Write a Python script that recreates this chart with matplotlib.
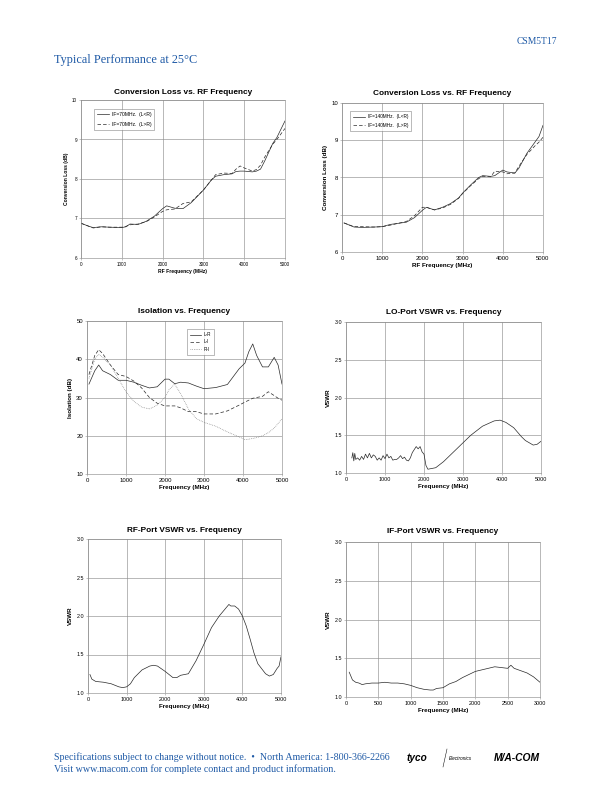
import matplotlib
matplotlib.use("Agg")
import matplotlib.pyplot as plt

plt.rcParams['font.family'] = ['Liberation Sans', 'DejaVu Sans']

# ---- data ----
cl70_freq = [0, 200, 300, 500, 700, 1000, 1100, 1200, 1400, 1600, 1800, 2000, 2100, 2300,
             2500, 2700, 3000, 3200, 3300, 3500, 3700, 3800, 3900, 4000, 4200, 4300,
             4400, 4500, 4700, 4800, 5000]
cl70_lr = [6.88, 6.80, 6.77, 6.79, 6.78, 6.77, 6.79, 6.86, 6.85, 6.93, 7.06, 7.25, 7.32, 7.26,
           7.25, 7.40, 7.72, 7.98, 8.07, 8.11, 8.13, 8.19, 8.20, 8.20, 8.18, 8.20,
           8.25, 8.45, 8.90, 9.05, 9.47]
cl70_rl = [6.88, 6.80, 6.76, 6.79, 6.78, 6.78, 6.80, 6.84, 6.86, 6.92, 7.04, 7.18, 7.22, 7.24,
           7.38, 7.42, 7.72, 7.98, 8.11, 8.15, 8.14, 8.25, 8.33, 8.28, 8.20, 8.24,
           8.35, 8.55, 8.88, 9.00, 9.28]

cl140_freq = [50, 300, 500, 800, 1000, 1200, 1400, 1600, 1800, 2000, 2100, 2300, 2500, 2700,
              2900, 3000, 3200, 3400, 3500, 3700, 3800, 4000, 4100, 4300, 4400, 4600,
              4800, 4900, 5000]
cl140_lr = [6.78, 6.67, 6.66, 6.67, 6.68, 6.74, 6.77, 6.80, 6.92, 7.12, 7.20, 7.13, 7.20, 7.30,
            7.45, 7.58, 7.80, 8.00, 8.05, 8.03, 8.05, 8.20, 8.15, 8.12, 8.25, 8.65,
            8.95, 9.10, 9.40]
cl140_rl = [6.78, 6.68, 6.68, 6.67, 6.68, 6.72, 6.77, 6.82, 6.97, 7.20, 7.20, 7.13, 7.18, 7.28,
            7.44, 7.57, 7.78, 7.97, 8.03, 8.02, 8.17, 8.15, 8.10, 8.12, 8.30, 8.62,
            8.85, 8.95, 9.08]

iso_freq = [50, 200, 300, 400, 600, 800, 1000, 1200, 1400, 1600, 1800, 2000, 2100, 2250,
            2400, 2600, 2800, 3000, 3300, 3600, 3900, 4050, 4150, 4250, 4350, 4500,
            4650, 4800, 4900, 5000]
iso_lr = [33.5, 37.0, 38.5, 37.0, 36.0, 34.5, 34.5, 34.0, 33.2, 32.5, 32.8, 34.8, 34.8, 33.6,
          34.0, 33.8, 33.0, 32.3, 32.6, 33.4, 37.5, 39.0, 42.0, 44.0, 41.0, 38.0,
          38.0, 40.5, 38.5, 33.5]
iso_li = [36.0, 41.0, 42.5, 41.5, 38.5, 36.0, 35.5, 34.3, 32.5, 30.0, 28.5, 27.8, 27.8, 27.8,
          27.3, 26.3, 26.3, 25.7, 25.7, 26.5, 28.0, 28.8, 29.3, 29.8, 30.0, 30.3,
          31.5, 30.5, 29.8, 29.3]
iso_ri = [35.0, 40.0, 41.3, 40.5, 38.5, 35.0, 31.5, 29.0, 27.5, 27.0, 28.0, 30.0, 32.0, 33.5,
          31.0, 27.0, 24.5, 23.5, 22.5, 21.0, 19.7, 19.0, 19.1, 19.3, 19.5, 20.0,
          20.8, 22.0, 23.2, 24.5]

lo_freq = [150, 175, 200, 225, 250, 300, 350, 400, 450, 500, 550, 600, 650, 700, 750, 800,
           850, 900, 950, 1000, 1050, 1100, 1150, 1200, 1250, 1300, 1350, 1400, 1450, 1500,
           1550, 1600, 1650, 1700, 1800, 1850, 1900, 1950, 2000, 2050, 2100, 2300, 2500,
           2800, 3000, 3200, 3500, 3800, 3950, 4100, 4300, 4500, 4600, 4800, 4900, 5000]
lo_vswr = [1.20, 1.27, 1.16, 1.26, 1.18, 1.20, 1.17, 1.22, 1.18, 1.25, 1.20, 1.26, 1.20, 1.24,
           1.22, 1.17, 1.20, 1.17, 1.23, 1.19, 1.25, 1.20, 1.22, 1.17, 1.18, 1.18, 1.20,
           1.23, 1.19, 1.21, 1.17, 1.16, 1.20, 1.27, 1.35, 1.32, 1.35, 1.28, 1.25, 1.10,
           1.05, 1.07, 1.15, 1.30, 1.40, 1.50, 1.62, 1.69, 1.70, 1.67, 1.60, 1.48, 1.43,
           1.37, 1.38, 1.42]

rf_freq = [50, 100, 200, 400, 600, 800, 900, 1000, 1100, 1200, 1400, 1600, 1700, 1800, 2000,
           2200, 2300, 2400, 2600, 2800, 3000, 3200, 3400, 3600, 3650, 3700, 3800, 3900,
           4000, 4100, 4200, 4300, 4400, 4600, 4700, 4800, 4900, 4950, 5000]
rf_vswr = [1.24, 1.18, 1.15, 1.14, 1.12, 1.08, 1.07, 1.08, 1.12, 1.20, 1.30, 1.35, 1.36, 1.35,
           1.28, 1.20, 1.20, 1.23, 1.25, 1.42, 1.63, 1.85, 2.00, 2.12, 2.15, 2.13, 2.13,
           2.09, 2.00, 1.87, 1.70, 1.52, 1.38, 1.25, 1.22, 1.24, 1.32, 1.35, 1.47]

if_freq = [50, 100, 150, 200, 250, 300, 400, 500, 600, 700, 800, 900, 1000, 1100, 1200,
           1300, 1350, 1400, 1500, 1600, 1700, 1800, 1900, 2000, 2100, 2200, 2300, 2400,
           2500, 2550, 2600, 2700, 2800, 2900, 3000]
if_vswr = [1.32, 1.22, 1.19, 1.18, 1.16, 1.17, 1.18, 1.18, 1.19, 1.18, 1.18, 1.17, 1.15,
           1.12, 1.10, 1.09, 1.09, 1.11, 1.12, 1.17, 1.20, 1.25, 1.29, 1.33, 1.35, 1.37,
           1.39, 1.38, 1.37, 1.41, 1.37, 1.34, 1.31, 1.26, 1.19]

W, H = 612, 792
fig = plt.figure(figsize=(W / 72, H / 72), dpi=72)

blue = '#1f5aa6'
line_c = '#2a2a2a'
serif = 'Liberation Serif'


def make_axes(x0, x1, y0, y1):
    # pixel box -> figure fraction
    return fig.add_axes([x0 / W, 1 - y1 / H, (x1 - x0) / W, (y1 - y0) / H])


def style(ax, title, xlabel, ylabel, xlim, ylim, xticks, yticks, yfmt, tfs=5.5, lfs=6.0, tpad=7):
    ax.set_xlim(*xlim)
    ax.set_ylim(*ylim)
    ax.set_xticks(xticks)
    ax.set_yticks(yticks)
    ax.set_xticklabels([str(t) for t in xticks])
    ax.set_yticklabels([yfmt.format(t) for t in yticks])
    ax.grid(True, color='#8c8c8c', linewidth=0.6)
    ax.set_axisbelow(True)
    for s in ax.spines.values():
        s.set_color('#8c8c8c')
        s.set_linewidth(0.6)
    ax.tick_params(labelsize=tfs, length=2, width=0.5, color='#8c8c8c', pad=2)
    ax.set_title(title, fontsize=8.2, fontweight='bold', pad=tpad)
    ax.set_xlabel(xlabel, fontsize=lfs, fontweight='bold', labelpad=2)
    ax.set_ylabel(ylabel, fontsize=lfs, fontweight='bold', labelpad=3)


def add_legend(ax, anchor, fs, spacing):
    leg = ax.legend(loc='upper left', bbox_to_anchor=anchor, fontsize=fs, frameon=True,
                    fancybox=False, edgecolor='#555555', handlelength=2.5, borderpad=0.6,
                    labelspacing=spacing, handletextpad=0.5)
    leg.get_frame().set_linewidth(0.5)


x5k = [0, 1000, 2000, 3000, 4000, 5000]
vswr_ticks = [1.0, 1.5, 2.0, 2.5, 3.0]

# Conversion loss, IF=70MHz
ax1 = make_axes(81, 285, 100, 258)
ax1.plot(cl70_freq, cl70_lr, color=line_c, lw=0.7, label='IF=70MHz.  (L<R)')
ax1.plot(cl70_freq, cl70_rl, color=line_c, lw=0.7, ls=(0, (5, 3)), label='IF=70MHz.  (L>R)')
style(ax1, 'Conversion Loss vs. RF Frequency', 'RF Frequency (MHz)', 'Conversion Loss (dB)',
      (0, 5000), (6, 10), x5k, [6, 7, 8, 9, 10], '{}', tfs=4.6, lfs=5.0, tpad=6)
add_legend(ax1, (0.05, 0.96), 5.0, 1.0)

# Conversion loss, IF=140MHz
ax2 = make_axes(342, 543, 103, 252)
ax2.plot(cl140_freq, cl140_lr, color=line_c, lw=0.7, label='IF=140MHz.  (L<R)')
ax2.plot(cl140_freq, cl140_rl, color=line_c, lw=0.7, ls=(0, (5, 3)), label='IF=140MHz.  (L>R)')
style(ax2, 'Conversion Loss vs. RF Frequency', 'RF Frequency (MHz)', 'Conversion Loss (dB)',
      (0, 5000), (6, 10), x5k, [6, 7, 8, 9, 10], '{}', tfs=6.0, lfs=6.2, tpad=8)
add_legend(ax2, (0.03, 0.96), 4.8, 0.8)

# Isolation
ax3 = make_axes(87, 282, 321, 474)
ax3.plot(iso_freq, iso_lr, color=line_c, lw=0.7, label='L-R')
ax3.plot(iso_freq, iso_li, color=line_c, lw=0.7, ls=(0, (5, 3)), label='L-I')
ax3.plot(iso_freq, iso_ri, color='#777777', lw=0.7, ls=(0, (1, 1.5)), label='R-I')
style(ax3, 'Isolation vs. Frequency', 'Frequency (MHz)', 'Isolation (dB)',
      (0, 5000), (10, 50), x5k, [10, 20, 30, 40, 50], '{}', tfs=6.0, lfs=6.2, tpad=8)
add_legend(ax3, (0.5, 0.96), 4.6, 0.5)

# LO-Port VSWR
ax4 = make_axes(346, 541, 322, 473)
ax4.plot(lo_freq, lo_vswr, color=line_c, lw=0.7)
style(ax4, 'LO-Port VSWR vs. Frequency', 'Frequency (MHz)', 'VSWR',
      (0, 5000), (1.0, 3.0), x5k, vswr_ticks, '{:.1f}', tfs=5.4, lfs=6.2, tpad=8)

# RF-Port VSWR
ax5 = make_axes(88, 281, 539, 693)
ax5.plot(rf_freq, rf_vswr, color=line_c, lw=0.7)
style(ax5, 'RF-Port VSWR vs. Frequency', 'Frequency (MHz)', 'VSWR',
      (0, 5000), (1.0, 3.0), x5k, vswr_ticks, '{:.1f}', tfs=5.4, lfs=6.2, tpad=7)

# IF-Port VSWR
ax6 = make_axes(346, 540, 542, 697)
ax6.plot(if_freq, if_vswr, color=line_c, lw=0.7)
style(ax6, 'IF-Port VSWR vs. Frequency', 'Frequency (MHz)', 'VSWR',
      (0, 3000), (1.0, 3.0), [0, 500, 1000, 1500, 2000, 2500, 3000], vswr_ticks,
      '{:.1f}', tfs=5.4, lfs=6.2, tpad=9)

# header / footer
fig.text(557 / W, 1 - 41 / H, 'CSM5T17', family=serif, fontsize=9.6, color=blue,
         ha='right', va='center')
fig.text(54 / W, 1 - 60 / H, 'Typical Performance at 25\u00b0C', family=serif,
         fontsize=12.2, color=blue, ha='left', va='center')
fig.text(54 / W, 1 - 757 / H,
         'Specifications subject to change without notice.  \u2022  North America: 1-800-366-2266',
         family=serif, fontsize=10, color=blue, ha='left', va='center')
fig.text(54 / W, 1 - 769 / H, 'Visit www.macom.com for complete contact and product information.',
         family=serif, fontsize=10, color=blue, ha='left', va='center')
fig.text(407 / W, 1 - 758 / H, 'tyco', fontsize=10, fontweight='bold', style='italic',
         ha='left', va='center', color='black')
fig.add_artist(plt.Line2D([447 / W, 443 / W], [1 - 749 / H, 1 - 767 / H],
                          color='black', lw=0.5, transform=fig.transFigure))
fig.text(449 / W, 1 - 758 / H, 'Electronics', fontsize=4.8, style='italic', ha='left',
         va='center', color='black')
fig.text(494 / W, 1 - 758 / H, 'M/A-COM', fontsize=10.2, fontweight='bold', style='italic',
         ha='left', va='center', color='black')

fig.savefig('out.png', dpi=72, facecolor='white')
